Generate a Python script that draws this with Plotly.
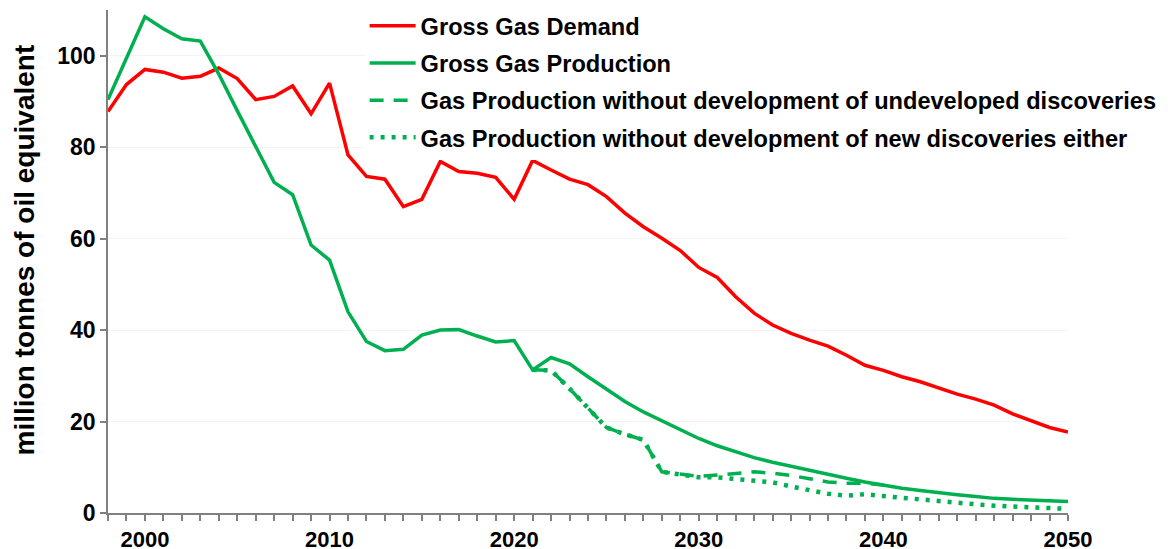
import plotly.graph_objects as go

years = list(range(1998, 2051))

demand = [87.8, 93.7, 97.0, 96.4, 95.1, 95.5, 97.3, 95.0, 90.4, 91.1,
          93.4, 87.3, 94.0, 78.3, 73.6, 73.0, 67.0, 68.6, 76.9, 74.7,
          74.3, 73.4, 68.6, 77.1, 75.0, 73.0, 71.8, 69.2, 65.6, 62.6,
          60.1, 57.4, 53.7, 51.5, 47.3, 43.7, 41.1, 39.3, 37.8, 36.5,
          34.5, 32.3, 31.2, 29.8, 28.7, 27.4, 26.0, 24.9, 23.6, 21.7,
          20.1, 18.7, 17.7]

production = [90.4, 99.5, 108.5, 105.9, 103.7, 103.2, 96.0, 88.0, 80.0, 72.3,
              69.6, 58.6, 55.3, 44.0, 37.5, 35.5, 35.8, 38.9, 40.0, 40.1,
              38.7, 37.4, 37.7, 31.3, 34.0, 32.6, 29.8, 27.0, 24.4, 22.1,
              20.1, 18.1, 16.3, 14.7, 13.3, 12.1, 11.1, 10.2, 9.3, 8.4,
              7.6, 6.8, 6.1, 5.4, 4.9, 4.4, 4.0, 3.6, 3.2, 3.0,
              2.8, 2.6, 2.5]

years_undev = list(range(2021, 2041))
prod_no_undeveloped = [31.3, 31.2, 27.2, 23.0, 18.7, 17.2, 16.0, 9.0, 8.5, 8.0,
                       8.3, 8.6, 9.0, 8.7, 8.2, 7.5, 6.8, 6.5, 6.5, 6.1]

years_new = list(range(2021, 2051))
prod_no_new = [31.3, 31.2, 27.2, 23.0, 18.7, 17.2, 16.0, 9.0, 8.3, 7.8,
               7.8, 7.5, 7.2, 6.7, 5.8, 5.0, 4.2, 3.8, 4.1, 3.7,
               3.3, 2.9, 2.7, 2.2, 1.9, 1.6, 1.4, 1.2, 1.1, 0.9]

names = ["Gross Gas Demand",
         "Gross Gas Production",
         "Gas Production without development of undeveloped discoveries",
         "Gas Production without development of new discoveries either"]

y_title = "million tonnes of oil equivalent"

x_tickvals = [2000, 2010, 2020, 2030, 2040, 2050]
y_tickvals = [0, 20, 40, 60, 80, 100]

RED = "#ff0000"
GREEN = "#00b050"
FONT = "Liberation Sans, Arial, sans-serif"

fig = go.Figure()
fig.add_trace(go.Scatter(x=years, y=demand, name=names[0], mode="lines",
                         line=dict(color=RED, width=3.5), legendgroup="a"))
fig.add_trace(go.Scatter(x=years, y=production, name=names[1], mode="lines",
                         line=dict(color=GREEN, width=3.5), legendgroup="b"))
fig.add_trace(go.Scatter(x=years_undev, y=prod_no_undeveloped, name=names[2], mode="lines",
                         line=dict(color=GREEN, width=3.5, dash="14px,10px"), legendgroup="c"))
fig.add_trace(go.Scatter(x=years_new, y=prod_no_new, name=names[3], mode="lines",
                         line=dict(color=GREEN, width=4.5, dash="4px,7px"), legendgroup="d"))

# page body has an 8px margin, so the figure is offset to compensate
fig.update_layout(
    width=1165, height=541,
    margin=dict(l=100, r=105, t=2, b=36, autoexpand=False),
    paper_bgcolor="white", plot_bgcolor="white",
    font=dict(family=FONT, color="black"),
    showlegend=True,
    legend=dict(x=0.2673, y=1.012, xanchor="left", yanchor="top",
                bgcolor="white", borderwidth=0,
                font=dict(family=FONT, size=23.6, color="black", weight="bold"),
                itemwidth=46, tracegroupgap=3.5, traceorder="grouped"),
    xaxis=dict(range=[1998, 2050], tickmode="array", tickvals=x_tickvals,
               ticktext=[str(v) for v in x_tickvals],
               ticks="outside", ticklen=6, tickcolor="#808080", tickwidth=1.5,
               minor=dict(tick0=1998, dtick=1, ticks="outside", ticklen=6,
                          tickcolor="#808080", tickwidth=1.5),
               showline=True, linecolor="#808080", linewidth=1.5,
               showgrid=False, zeroline=False,
               tickfont=dict(family=FONT, size=22, color="black", weight="bold")),
    yaxis=dict(range=[0, 110], tickmode="array", tickvals=y_tickvals,
               ticks="outside", ticklen=6, tickcolor="#808080", tickwidth=1.5,
               showline=True, linecolor="#808080", linewidth=1.5,
               showgrid=True, gridcolor="#f3f3f3", gridwidth=1,
               zeroline=False,
               tickfont=dict(family=FONT, size=23, color="black", weight="bold")),
    annotations=[dict(text=y_title, xref="paper", yref="paper",
                      x=-0.0875, y=0.522, xanchor="center", yanchor="middle",
                      textangle=-90, showarrow=False,
                      font=dict(family=FONT, size=28, color="black", weight="bold"))],
)

fig.write_html("out.html")
